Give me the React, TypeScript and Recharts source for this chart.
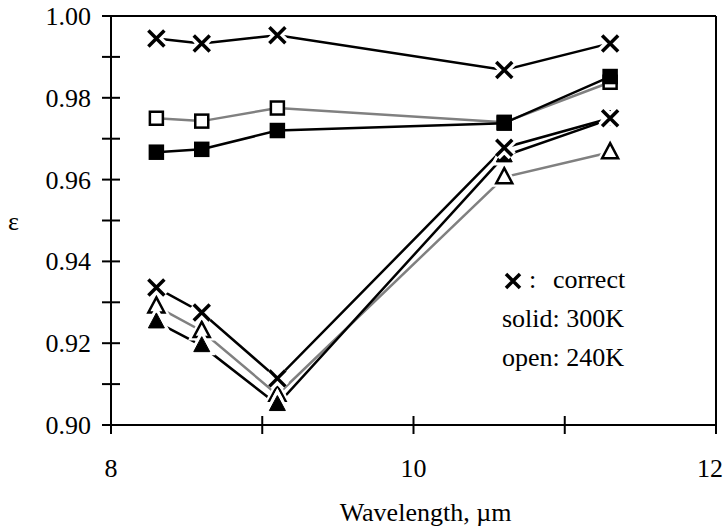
import React from 'react';
import {
  LineChart,
  Line,
  XAxis,
  YAxis,
  ReferenceLine,
  Customized,
} from 'recharts';

// wavelengths (µm) shared by every series
const wavelengths = [8.3, 8.6, 9.1, 10.6, 11.3];

// emissivity values
const correctHigh = [0.9945, 0.9933, 0.9953, 0.9868, 0.9933];
const open240Square = [0.975, 0.9743, 0.9775, 0.974, 0.9838];
const solid300Square = [0.9667, 0.9674, 0.972, 0.9738, 0.9852];
const correctLow = [0.9336, 0.9275, 0.9114, 0.9678, 0.975];
const open240Triangle = [0.929, 0.923, 0.9074, 0.9606, 0.9667];
const solid300Triangle = [0.9252, 0.9194, 0.905, 0.9658, 0.9748];

const xTicks = [8, 9, 10, 11, 12];
const yTicks = [0.9, 0.91, 0.92, 0.93, 0.94, 0.95, 0.96, 0.97, 0.98, 0.99, 1.0];

const legendLines = ['correct', 'solid: 300K', 'open: 240K'];

const font = '"Liberation Serif", "Times New Roman", serif';
const gray = '#808080';

const toPoints = (values: number[]) =>
  wavelengths.map((x, i) => ({ x, y: values[i] }));

type Marker = 'x' | 'openSquare' | 'solidSquare' | 'openTriangle' | 'solidTriangle';

function drawMarker(kind: Marker, cx: number, cy: number, key: string) {
  if (cx == null || cy == null) return <g key={key} />;
  if (kind === 'x') {
    const d = `M${cx - 8},${cy - 8}L${cx + 8},${cy + 8}M${cx + 8},${cy - 8}L${cx - 8},${cy + 8}`;
    return (
      <g key={key}>
        <path d={d} stroke="#fff" strokeWidth={10} fill="none" />
        <path d={d} stroke="#000" strokeWidth={3.5} fill="none" />
      </g>
    );
  }
  if (kind === 'openSquare' || kind === 'solidSquare') {
    const solid = kind === 'solidSquare';
    return (
      <rect
        key={key}
        x={cx - 6.5}
        y={cy - 6.5}
        width={13}
        height={13}
        fill={solid ? '#000' : '#fff'}
        stroke="#000"
        strokeWidth={2.5}
      />
    );
  }
  const solid = kind === 'solidTriangle';
  const pts = `${cx},${cy - 9} ${cx + 8},${cy + 6} ${cx - 8},${cy + 6}`;
  return (
    <g key={key}>
      <polygon points={pts} fill="#fff" stroke="#fff" strokeWidth={7} />
      <polygon
        points={pts}
        fill={solid ? '#000' : '#fff'}
        stroke="#000"
        strokeWidth={solid ? 1 : 2.5}
      />
    </g>
  );
}

const markerDot = (kind: Marker, id: string) => (props: any) =>
  drawMarker(kind, props.cx, props.cy, `${id}-${props.index}`);

function XTick(props: any) {
  const { x, y, payload } = props;
  const v = payload.value;
  // last label sits against the right edge, keep it inside the picture
  const last = v === xTicks[xTicks.length - 1];
  return (
    <g>
      <line x1={x} x2={x} y1={y - 9} y2={y + 9} stroke="#000" strokeWidth={2} />
      {v % 2 === 0 && (
        <text
          x={last ? x + 7 : x}
          y={y + 52}
          textAnchor={last ? 'end' : 'middle'}
          fontFamily={font}
          fontSize={26}
          fill="#000"
        >
          {v}
        </text>
      )}
    </g>
  );
}

function YTick(props: any) {
  const { x, y, payload } = props;
  const v = payload.value;
  const showLabel = Math.round(v * 100) % 2 === 0;
  return (
    <g>
      <line x1={x - 9} x2={x + 9} y1={y} y2={y} stroke="#000" strokeWidth={2} />
      {showLabel && (
        <text x={x - 20} y={y + 9} textAnchor="end" fontFamily={font} fontSize={26} fill="#000">
          {v.toFixed(2)}
        </text>
      )}
    </g>
  );
}

function Notes() {
  return (
    <g fontFamily={font} fontSize={26} fill="#000">
      <path
        d="M506,274L520,288M520,274L506,288"
        stroke="#000"
        strokeWidth={3.5}
        fill="none"
      />
      <text x={529} y={288}>:</text>
      <text x={553} y={288}>{legendLines[0]}</text>
      <text x={502} y={327}>{legendLines[1]}</text>
      <text x={502} y={366}>{legendLines[2]}</text>
    </g>
  );
}

const series: { id: string; values: number[]; color: string; marker: Marker }[] = [
  { id: 'open240Square', values: open240Square, color: gray, marker: 'openSquare' },
  { id: 'solid300Square', values: solid300Square, color: '#000', marker: 'solidSquare' },
  { id: 'open240Triangle', values: open240Triangle, color: gray, marker: 'openTriangle' },
  { id: 'solid300Triangle', values: solid300Triangle, color: '#000', marker: 'solidTriangle' },
  { id: 'correctHigh', values: correctHigh, color: '#000', marker: 'x' },
  { id: 'correctLow', values: correctLow, color: '#000', marker: 'x' },
];

export default function App() {
  return (
    <div style={{ position: 'absolute', left: 0, top: 0, width: 724, height: 531, background: '#fff' }}>
      <LineChart
        width={724}
        height={531}
        margin={{ top: 16, right: 8, bottom: 0, left: 0 }}
      >
        <XAxis
          type="number"
          dataKey="x"
          domain={[8, 12]}
          ticks={xTicks}
          interval={0}
          allowDataOverflow
          height={106}
          tickSize={0}
          tickMargin={0}
          tickLine={false}
          tick={<XTick />}
          axisLine={{ stroke: '#000', strokeWidth: 2 }}
          label={{
            value: 'Wavelength, µm',
            position: 'insideBottom',
            offset: 10,
            dx: 12,
            fill: '#000',
            fontSize: 26,
            fontFamily: font,
          }}
        />
        <YAxis
          type="number"
          domain={[0.9, 1.0]}
          ticks={yTicks}
          interval={0}
          allowDataOverflow
          width={111}
          tickSize={0}
          tickMargin={0}
          tickLine={false}
          tick={<YTick />}
          axisLine={{ stroke: '#000', strokeWidth: 2 }}
          label={{
            value: 'ε',
            position: 'insideLeft',
            offset: 8,
            fill: '#000',
            fontSize: 26,
            fontFamily: font,
          }}
        />
        <ReferenceLine y={1.0} stroke="#000" strokeWidth={2} />
        <ReferenceLine x={12} stroke="#000" strokeWidth={2} />
        {series.map((s) => (
          <Line
            key={s.id}
            data={toPoints(s.values)}
            dataKey="y"
            type="linear"
            stroke={s.color}
            strokeWidth={2.5}
            dot={markerDot(s.marker, s.id)}
            activeDot={false}
            legendType="none"
            isAnimationActive={false}
          />
        ))}
        <Customized component={<Notes />} />
      </LineChart>
    </div>
  );
}
